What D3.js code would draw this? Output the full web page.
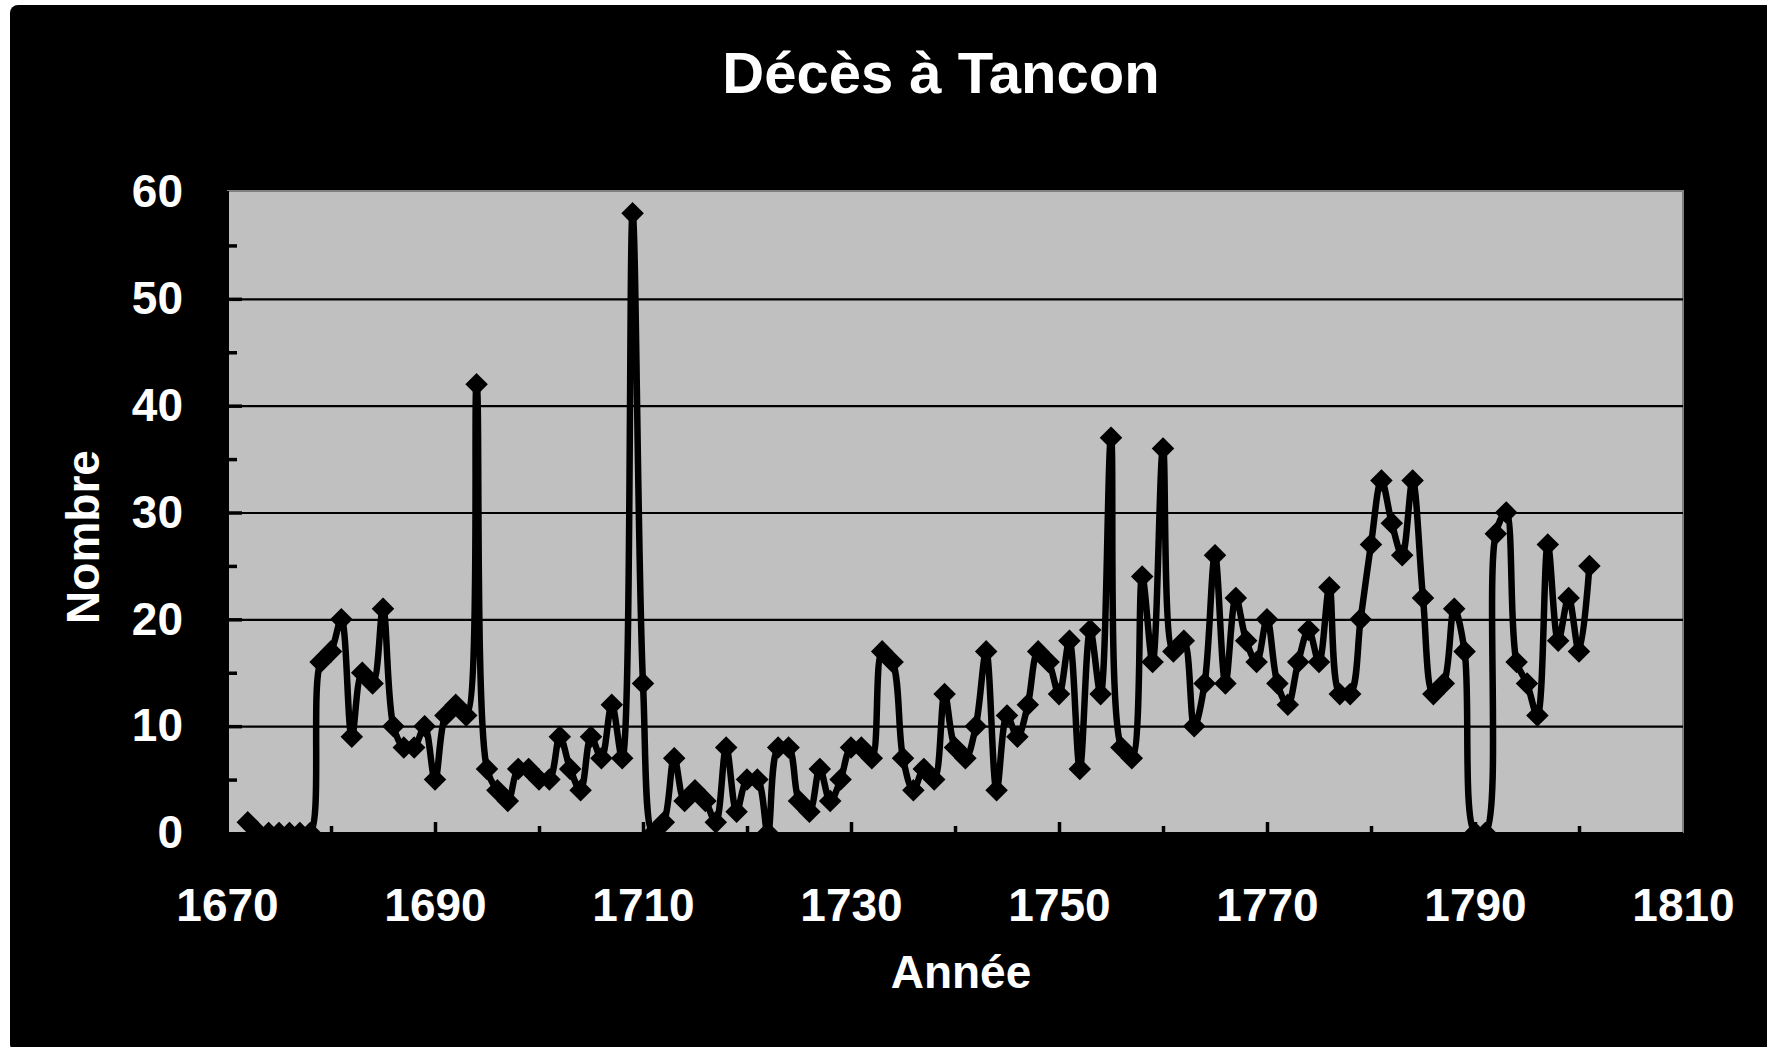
<!DOCTYPE html>
<html>
<head>
<meta charset="utf-8">
<script src="https://cdn.jsdelivr.net/npm/d3@7"></script>
<style>
html,body{margin:0;padding:0;background:#fff;}
svg{display:block;}
text{font-family:"Liberation Sans",Arial,Helvetica,sans-serif;font-weight:bold;fill:#fff;}
</style>
</head>
<body>
<svg id="chart" width="1767" height="1047"></svg>
<script>
const title = "Décès à Tancon";
const xTitle = "Année";
const yTitle = "Nombre";

const years = [
  1672,1673,1674,1675,1676,1677,1678,1679,1680,1681,1682,1683,1684,1685,1686,1687,1688,1689,1690,1691,
  1692,1693,1694,1695,1696,1697,1698,1699,1700,1701,1702,1703,1704,1705,1706,1707,1708,1709,1710,1711,
  1712,1713,1714,1715,1716,1717,1718,1719,1720,1721,1722,1723,1724,1725,1726,1727,1728,1729,1730,1731,
  1732,1733,1734,1735,1736,1737,1738,1739,1740,1741,1742,1743,1744,1745,1746,1747,1748,1749,1750,1751,
  1752,1753,1754,1755,1756,1757,1758,1759,1760,1761,1762,1763,1764,1765,1766,1767,1768,1769,1770,1771,
  1772,1773,1774,1775,1776,1777,1778,1779,1780,1781,1782,1783,1784,1785,1786,1787,1788,1789,1790,1791,
  1792,1793,1794,1795,1796,1797,1798,1799,1800,1801
];
const deaths = [
  1,0,0,0,0,0,0,16,17,20,9,15,14,21,10,8,8,10,5,11,
  12,11,42,6,4,3,6,6,5,5,9,6,4,9,7,12,7,58,14,0,
  1,7,3,4,3,1,8,2,5,5,0,8,8,3,2,6,3,5,8,8,
  7,17,16,7,4,6,5,13,8,7,10,17,4,11,9,12,17,16,13,18,
  6,19,13,37,8,7,24,16,36,17,18,10,14,26,14,22,18,16,20,14,
  12,16,19,16,23,13,13,20,27,33,29,26,33,22,13,14,21,17,0,0,
  28,30,16,14,11,27,18,22,17,25
];
const xTicks = [1670,1690,1710,1730,1750,1770,1790,1810];
const xMinorTicks = [1680,1700,1720,1740,1760,1780,1800];
const yTicks = [0,10,20,30,40,50,60];
const yMinorTicks = [5,15,25,35,45,55];

const W = 1767, H = 1047;
const svg = d3.select("#chart");

// outer frame
svg.append("rect").attr("x",10).attr("y",5).attr("width",W).attr("height",H)
  .attr("rx",8).attr("fill","#000");

const x = d3.scaleLinear().domain([1670,1810]).range([227,1683]);
const y = d3.scaleLinear().domain([0,60]).range([833,192]);

const pL = x(1670), pR = x(1810), pT = y(60)-1, pB = y(0);

// plot area
svg.append("rect").attr("x",pL).attr("y",pT).attr("width",pR-pL).attr("height",pB-pT)
  .attr("fill","#c0c0c0");
svg.append("path").attr("d",`M${pL},${pT}H${pR}V${pB}`)
  .attr("fill","none").attr("stroke","#808080").attr("stroke-width",2);

// gridlines
const grid = svg.append("g").attr("transform",`translate(${pL},0)`)
  .call(d3.axisLeft(y).tickValues([10,20,30,40,50]).tickSize(-(pR-pL)).tickFormat(""));
grid.select(".domain").remove();
grid.selectAll("line").attr("stroke","#000").attr("stroke-width",2.2);

// clip
svg.append("clipPath").attr("id","clip").append("rect")
  .attr("x",pL).attr("y",pT).attr("width",pR-pL).attr("height",pB-pT);

const data = years.map((yr,i)=>({year:yr,value:deaths[i]}));
const gData = svg.append("g").attr("clip-path","url(#clip)");
gData.append("path").datum(data)
  .attr("d", d3.line().x(d=>x(d.year)).y(d=>y(d.value)).curve(d3.curveCatmullRom.alpha(0.5)))
  .attr("fill","none").attr("stroke","#000").attr("stroke-width",6.5).attr("stroke-linejoin","round");
const r = 9.5;
gData.selectAll("path.mk").data(data).enter().append("path").attr("class","mk")
  .attr("transform",d=>`translate(${x(d.year)},${y(d.value)})`)
  .attr("d",`M0,${-r}L${r},0L0,${r}L${-r},0Z`)
  .attr("fill","#000").attr("stroke","#000").attr("stroke-width",2.5).attr("stroke-linejoin","miter");

// axis lines
svg.append("line").attr("x1",pL).attr("x2",pL).attr("y1",pT).attr("y2",pB+3)
  .attr("stroke","#000").attr("stroke-width",4);
svg.append("line").attr("x1",pL).attr("x2",pR).attr("y1",pB+1).attr("y2",pB+1)
  .attr("stroke","#000").attr("stroke-width",4);

// ticks (inside)
function ticks(axisFn, scale, vals, size, transform){
  const g = svg.append("g").attr("transform",transform)
    .call(axisFn(scale).tickValues(vals).tickSize(size).tickFormat(""));
  g.select(".domain").remove();
  g.selectAll("line").attr("stroke","#000").attr("stroke-width",3.5);
}
ticks(d3.axisLeft, y, yTicks.slice(1,6), -14, `translate(${pL+1},0)`);
ticks(d3.axisLeft, y, yMinorTicks, -9, `translate(${pL+1},0)`);
ticks(d3.axisBottom, x, xTicks.slice(1,7), -11, `translate(0,${pB})`);
ticks(d3.axisBottom, x, xMinorTicks, -7, `translate(0,${pB})`);

// tick labels
const yl = svg.append("g").attr("transform",`translate(${pL},0)`)
  .call(d3.axisLeft(y).tickValues(yTicks).tickSize(0).tickPadding(44).tickFormat(d3.format("d")));
yl.select(".domain").remove();
yl.selectAll("text").style("font-size","46px").attr("fill","#fff");

const xl = svg.append("g").attr("transform",`translate(0,${pB})`)
  .call(d3.axisBottom(x).tickValues(xTicks).tickSize(0).tickPadding(55).tickFormat(d3.format("d")));
xl.select(".domain").remove();
xl.selectAll("text").style("font-size","46px").attr("fill","#fff");

// titles
svg.append("text").attr("x",941).attr("y",93).attr("text-anchor","middle")
  .style("font-size","58px").text(title);
svg.append("text").attr("x",961).attr("y",988).attr("text-anchor","middle")
  .style("font-size","46px").text(xTitle);
svg.append("text").attr("transform","translate(99,537) rotate(-90)").attr("text-anchor","middle")
  .style("font-size","46px").text(yTitle);
</script>
</body>
</html>
